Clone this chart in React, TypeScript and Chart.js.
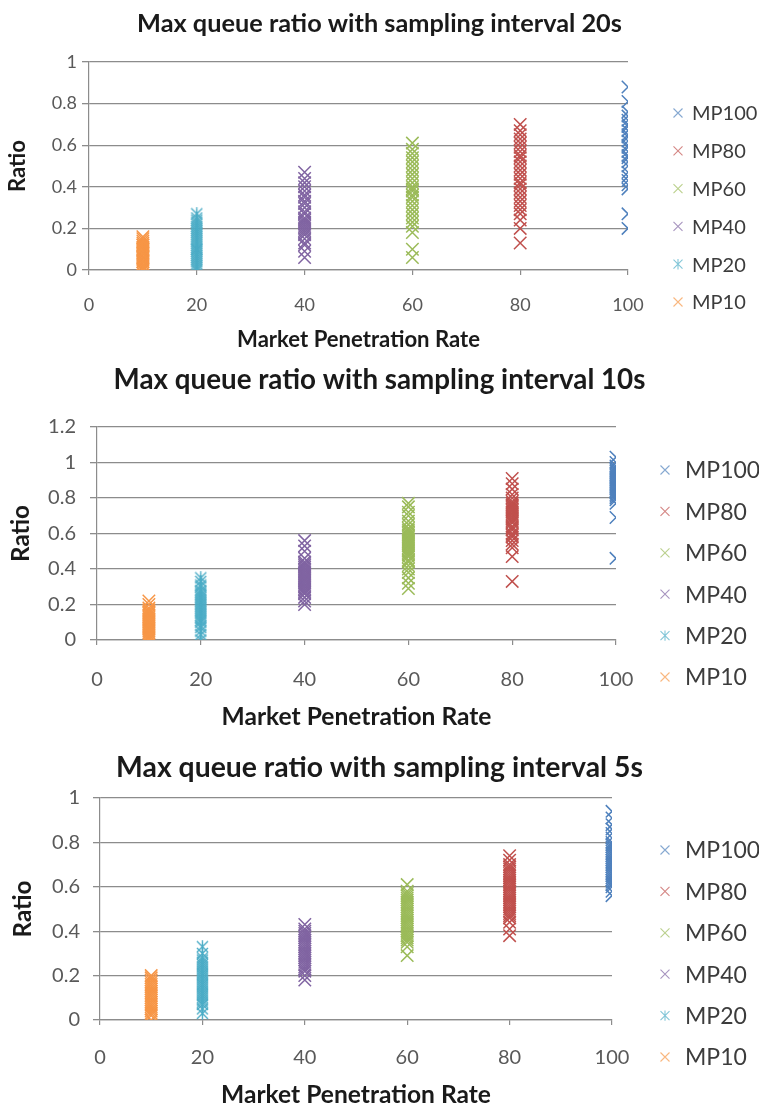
import React, { useEffect, useRef } from 'react';
import { Chart, registerables } from 'chart.js';

Chart.register(...registerables);

// ---------- data ----------
const seriesNames = ['MP10', 'MP20', 'MP40', 'MP60', 'MP80', 'MP100'];
const seriesX = [10, 20, 40, 60, 80, 100];
const seriesColors = ['#F79646', '#4BACC6', '#8064A2', '#9BBB59', '#C0504D', '#4F81BD'];
const xTickValues = [0, 20, 40, 60, 80, 100];

// sampling interval 20s
const mp10_20s = [0, 0.01, 0.02, 0.03, 0.04, 0.04, 0.05, 0.06, 0.06, 0.07, 0.08, 0.08, 0.09, 0.1, 0.1, 0.11, 0.12, 0.12, 0.13, 0.14, 0.15, 0.16];
const mp20_20s = [0, 0.01, 0.02, 0.03, 0.04, 0.05, 0.06, 0.07, 0.08, 0.09, 0.1, 0.1, 0.11, 0.12, 0.13, 0.14, 0.15, 0.16, 0.17, 0.18, 0.19, 0.2, 0.21, 0.22, 0.23, 0.24, 0.25, 0.27];
const mp40_20s = [0.06, 0.09, 0.12, 0.13, 0.15, 0.17, 0.18, 0.19, 0.2, 0.21, 0.22, 0.23, 0.24, 0.25, 0.27, 0.28, 0.3, 0.32, 0.33, 0.35, 0.36, 0.38, 0.4, 0.42, 0.44, 0.47];
const mp60_20s = [0.06, 0.1, 0.18, 0.21, 0.23, 0.25, 0.27, 0.29, 0.31, 0.33, 0.35, 0.36, 0.38, 0.39, 0.4, 0.42, 0.44, 0.46, 0.48, 0.5, 0.52, 0.54, 0.56, 0.58, 0.61];
const mp80_20s = [0.13, 0.2, 0.24, 0.27, 0.29, 0.31, 0.33, 0.35, 0.37, 0.39, 0.41, 0.42, 0.44, 0.46, 0.48, 0.5, 0.52, 0.54, 0.55, 0.57, 0.59, 0.61, 0.63, 0.65, 0.67, 0.7];
const mp100_20s = [0.2, 0.27, 0.39, 0.41, 0.43, 0.45, 0.47, 0.5, 0.52, 0.54, 0.55, 0.57, 0.59, 0.6, 0.62, 0.64, 0.65, 0.67, 0.69, 0.7, 0.72, 0.74, 0.76, 0.81, 0.88];

// sampling interval 10s
const mp10_10s = [0, 0.01, 0.02, 0.03, 0.04, 0.05, 0.06, 0.07, 0.08, 0.09, 0.1, 0.11, 0.12, 0.13, 0.14, 0.15, 0.16, 0.17, 0.18, 0.2, 0.22];
const mp20_10s = [0, 0.03, 0.05, 0.07, 0.08, 0.1, 0.11, 0.12, 0.13, 0.14, 0.15, 0.16, 0.17, 0.18, 0.19, 0.2, 0.21, 0.22, 0.23, 0.24, 0.25, 0.26, 0.27, 0.28, 0.3, 0.31, 0.33, 0.35];
const mp40_10s = [0.2, 0.22, 0.24, 0.26, 0.27, 0.28, 0.29, 0.3, 0.31, 0.32, 0.33, 0.34, 0.35, 0.36, 0.37, 0.38, 0.39, 0.4, 0.41, 0.42, 0.43, 0.44, 0.46, 0.5, 0.53, 0.56];
const mp60_10s = [0.29, 0.32, 0.35, 0.38, 0.4, 0.42, 0.44, 0.45, 0.47, 0.48, 0.49, 0.5, 0.51, 0.52, 0.53, 0.54, 0.55, 0.56, 0.57, 0.58, 0.59, 0.6, 0.61, 0.62, 0.63, 0.65, 0.67, 0.7, 0.72, 0.75, 0.77];
const mp80_10s = [0.33, 0.47, 0.52, 0.54, 0.56, 0.58, 0.59, 0.6, 0.62, 0.63, 0.64, 0.66, 0.67, 0.68, 0.69, 0.7, 0.71, 0.72, 0.73, 0.74, 0.75, 0.76, 0.77, 0.78, 0.8, 0.82, 0.85, 0.88, 0.91];
const mp100_10s = [0.46, 0.69, 0.77, 0.79, 0.8, 0.81, 0.82, 0.83, 0.84, 0.85, 0.86, 0.87, 0.88, 0.89, 0.9, 0.91, 0.92, 0.93, 0.94, 0.95, 0.96, 0.97, 0.98, 1.0, 1.03];

// sampling interval 5s
const mp10_5s = [0, 0.02, 0.03, 0.04, 0.05, 0.06, 0.07, 0.08, 0.09, 0.1, 0.11, 0.12, 0.13, 0.14, 0.15, 0.16, 0.17, 0.18, 0.19, 0.2];
const mp20_5s = [0.03, 0.05, 0.07, 0.08, 0.09, 0.1, 0.11, 0.12, 0.13, 0.14, 0.15, 0.16, 0.17, 0.18, 0.19, 0.2, 0.21, 0.22, 0.23, 0.24, 0.25, 0.26, 0.27, 0.28, 0.3, 0.33];
const mp40_5s = [0.18, 0.2, 0.22, 0.23, 0.24, 0.25, 0.26, 0.27, 0.28, 0.29, 0.3, 0.31, 0.32, 0.33, 0.34, 0.35, 0.36, 0.37, 0.38, 0.39, 0.4, 0.41, 0.43];
const mp60_5s = [0.29, 0.33, 0.35, 0.36, 0.37, 0.38, 0.39, 0.4, 0.41, 0.42, 0.43, 0.44, 0.45, 0.46, 0.47, 0.48, 0.49, 0.5, 0.51, 0.52, 0.53, 0.54, 0.55, 0.56, 0.57, 0.58, 0.61];
const mp80_5s = [0.38, 0.41, 0.44, 0.46, 0.47, 0.48, 0.49, 0.5, 0.51, 0.52, 0.53, 0.54, 0.55, 0.56, 0.57, 0.58, 0.59, 0.6, 0.61, 0.62, 0.63, 0.64, 0.65, 0.66, 0.67, 0.68, 0.69, 0.7, 0.72, 0.74];
const mp100_5s = [0.56, 0.58, 0.6, 0.61, 0.62, 0.63, 0.64, 0.65, 0.66, 0.67, 0.68, 0.69, 0.7, 0.71, 0.72, 0.73, 0.74, 0.75, 0.76, 0.77, 0.78, 0.79, 0.8, 0.82, 0.84, 0.86, 0.88, 0.91, 0.94];

const titles = [
  'Max queue ratio with sampling interval 20s',
  'Max queue ratio with sampling interval 10s',
  'Max queue ratio with sampling interval 5s',
];
const xAxisTitle = 'Market Penetration Rate';
const yAxisTitle = 'Ratio';
const yMaxes = [1, 1.2, 1];

// ---------- layout (pixels) ----------
const layouts = [
  { top: 0, height: 360, left: 89, right: 628, plotTop: 62, plotBottom: 270, titleY: 24, titleW: 485,
    tickFont: 18, yTickGap: 12, xLabelY: 305, xTitleY: 340, xTitleW: 243, ratioX: 18, ratioW: 52,
    legMarkX: 678, legTextX: 692, legY0: 113, legStep: 37.8, legFont: 20 },
  { top: 360, height: 370, left: 97, right: 616, plotTop: 67, plotBottom: 280, titleY: 20, titleW: 532,
    tickFont: 20, yTickGap: 21, xLabelY: 320, xTitleY: 357, xTitleW: 270, ratioX: 21, ratioW: 57,
    legMarkX: 665, legTextX: 685, legY0: 110, legStep: 41.4, legFont: 23 },
  { top: 730, height: 380, left: 100, right: 612, plotTop: 68, plotBottom: 290, titleY: 38, titleW: 527,
    tickFont: 20, yTickGap: 20, xLabelY: 328, xTitleY: 365, xTitleW: 270, ratioX: 23, ratioW: 57,
    legMarkX: 665, legTextX: 685, legY0: 120, legStep: 41.4, legFont: 23 },
];

const FONT = 'Lato';

function fitSize(text: string, weight: string, target: number): number {
  const c = document.createElement('canvas').getContext('2d')!;
  c.font = `${weight} 100px ${FONT}`;
  return (100 * target) / c.measureText(text).width;
}

function drawMarker(ctx: CanvasRenderingContext2D, x: number, y: number, half: number, color: string, star: boolean, lw: number) {
  ctx.save();
  ctx.strokeStyle = color;
  ctx.lineWidth = lw;
  ctx.beginPath();
  ctx.moveTo(x - half, y - half);
  ctx.lineTo(x + half, y + half);
  ctx.moveTo(x + half, y - half);
  ctx.lineTo(x - half, y + half);
  if (star) {
    ctx.moveTo(x, y - half * 1.15);
    ctx.lineTo(x, y + half * 1.15);
  }
  ctx.stroke();
  ctx.restore();
}

function starImage(color: string, size: number): HTMLCanvasElement {
  const c = document.createElement('canvas');
  c.width = size;
  c.height = size;
  const ctx = c.getContext('2d')!;
  const h = size / 2;
  drawMarker(ctx, h, h, h - 1, color, true, 1.4);
  return c;
}

const sideLegend = {
  id: 'sideLegend',
  afterDraw(chart: any, _args: any, opts: any) {
    const ctx: CanvasRenderingContext2D = chart.ctx;
    ctx.save();
    ctx.font = `${opts.fontSize}px ${FONT}`;
    ctx.textBaseline = 'middle';
    ctx.textAlign = 'left';
    for (let i = 0; i < seriesNames.length; i++) {
      const idx = seriesNames.length - 1 - i;
      const y = opts.y0 + i * opts.step;
      drawMarker(ctx, opts.markX, y, 4.5, seriesColors[idx] + 'b0', idx === 1, 1.1);
      ctx.fillStyle = '#3c3c3c';
      ctx.fillText(seriesNames[idx], opts.textX, y + 1);
    }
    ctx.restore();
  },
};

function ScatterPanel({ index, series }: { index: number; series: number[][] }) {
  const ref = useRef<HTMLCanvasElement | null>(null);
  const L = layouts[index];

  useEffect(() => {
    const canvas = ref.current!;
    const titleSize = fitSize(titles[index], 'bold', L.titleW);
    const xTitleSize = fitSize(xAxisTitle, 'bold', L.xTitleW);
    const ratioSize = fitSize(yAxisTitle, 'bold', L.ratioW);
    const titleLH = titleSize * 1.2;
    const titlePadTop = L.titleY - titleLH / 2;
    const titlePadBottom = L.plotTop - titlePadTop - titleLH;
    const xTitleLH = xTitleSize * 1.2;
    const xTitlePadBottom = L.height - L.xTitleY - xTitleLH / 2;
    const ratioLH = ratioSize * 1.2;
    const ratioPadTop = L.ratioX - ratioLH / 2;
    const xTickLen = 5;
    const xTickPad = L.xLabelY - L.plotBottom - xTickLen - (L.tickFont * 1.2) / 2;
    const yTickLen = 7;

    const datasets = series.map((vals, i) => ({
      label: seriesNames[i],
      data: vals.map((v) => ({ x: seriesX[i], y: v })),
      borderColor: seriesColors[i],
      backgroundColor: seriesColors[i],
      pointStyle: i === 1 ? starImage(seriesColors[i], 13) : 'crossRot',
      pointRadius: 8.8,
      pointBorderWidth: 1.5,
      showLine: false,
      yAxisID: 'y',
    }));

    const gridColor = '#8c8c8c';
    const chart = new Chart(canvas, {
      type: 'scatter',
      data: { datasets: datasets as any },
      plugins: [sideLegend],
      options: {
        animation: false,
        responsive: false,
        events: [],
        layout: { padding: 0 },
        plugins: {
          legend: { display: false },
          tooltip: { enabled: false },
          title: {
            display: true,
            text: titles[index],
            color: '#1a1a1a',
            font: { family: FONT, weight: 'bold', size: titleSize, lineHeight: 1.2 },
            padding: { top: titlePadTop, bottom: titlePadBottom },
          },
          sideLegend: {
            markX: L.legMarkX,
            textX: L.legTextX,
            y0: L.legY0,
            step: L.legStep,
            fontSize: L.legFont,
          },
        } as any,
        scales: {
          x: {
            type: 'linear',
            min: 0,
            max: 100,
            afterBuildTicks: (scale: any) => {
              scale.ticks = xTickValues.map((v) => ({ value: v }));
            },
            afterFit: (scale: any) => {
              scale.height = L.height - L.plotBottom;
            },
            ticks: {
              autoSkip: false,
              maxRotation: 0,
              padding: xTickPad,
              color: '#595959',
              font: { family: FONT, size: L.tickFont, lineHeight: 1.2 },
            },
            grid: { drawOnChartArea: false, drawTicks: true, tickLength: xTickLen, color: gridColor, lineWidth: 1.2 },
            border: { display: true, color: gridColor, width: 1.2 },
            title: {
              display: true,
              text: xAxisTitle,
              color: '#1a1a1a',
              font: { family: FONT, weight: 'bold', size: xTitleSize, lineHeight: 1.2 },
              padding: { top: 0, bottom: xTitlePadBottom },
            },
          },
          y: {
            type: 'linear',
            position: 'left',
            min: 0,
            max: yMaxes[index],
            afterBuildTicks: (scale: any) => {
              const t: any[] = [];
              for (let k = 0; k <= Math.round(yMaxes[index] / 0.2); k++) t.push({ value: Math.round(k * 2) / 10 });
              scale.ticks = t;
            },
            afterFit: (scale: any) => {
              scale.width = L.left;
            },
            ticks: {
              padding: L.yTickGap - yTickLen,
              color: '#595959',
              font: { family: FONT, size: L.tickFont },
              callback: (v: any) => String(Math.round(Number(v) * 10) / 10),
            },
            grid: { drawTicks: true, tickLength: yTickLen, color: gridColor, lineWidth: 1.3 },
            border: { display: true, color: gridColor, width: 1.2 },
            title: {
              display: true,
              text: yAxisTitle,
              color: '#1a1a1a',
              font: { family: FONT, weight: 'bold', size: ratioSize, lineHeight: 1.2 },
              padding: { top: ratioPadTop, bottom: 0 },
            },
          },
          // empty right-hand axis that only reserves room for the legend column
          side: {
            type: 'linear',
            position: 'right',
            min: 0,
            max: 1,
            afterFit: (scale: any) => {
              scale.width = 759 - L.right;
            },
            ticks: { display: false },
            grid: { display: false, drawTicks: false },
            border: { display: false },
          },
        } as any,
      },
    });
    return () => chart.destroy();
  }, [index, series]);

  return (
    <canvas
      ref={ref}
      width={759}
      height={L.height}
      style={{ position: 'absolute', left: 0, top: L.top, width: 759, height: L.height, display: 'block' }}
    />
  );
}

const panels = [
  [mp10_20s, mp20_20s, mp40_20s, mp60_20s, mp80_20s, mp100_20s],
  [mp10_10s, mp20_10s, mp40_10s, mp60_10s, mp80_10s, mp100_10s],
  [mp10_5s, mp20_5s, mp40_5s, mp60_5s, mp80_5s, mp100_5s],
];

export default function App() {
  return (
    <div style={{ position: 'absolute', left: 0, top: 0, width: 759, height: 1110, background: '#ffffff', overflow: 'hidden' }}>
      {panels.map((s, i) => (
        <ScatterPanel key={i} index={i} series={s} />
      ))}
    </div>
  );
}
